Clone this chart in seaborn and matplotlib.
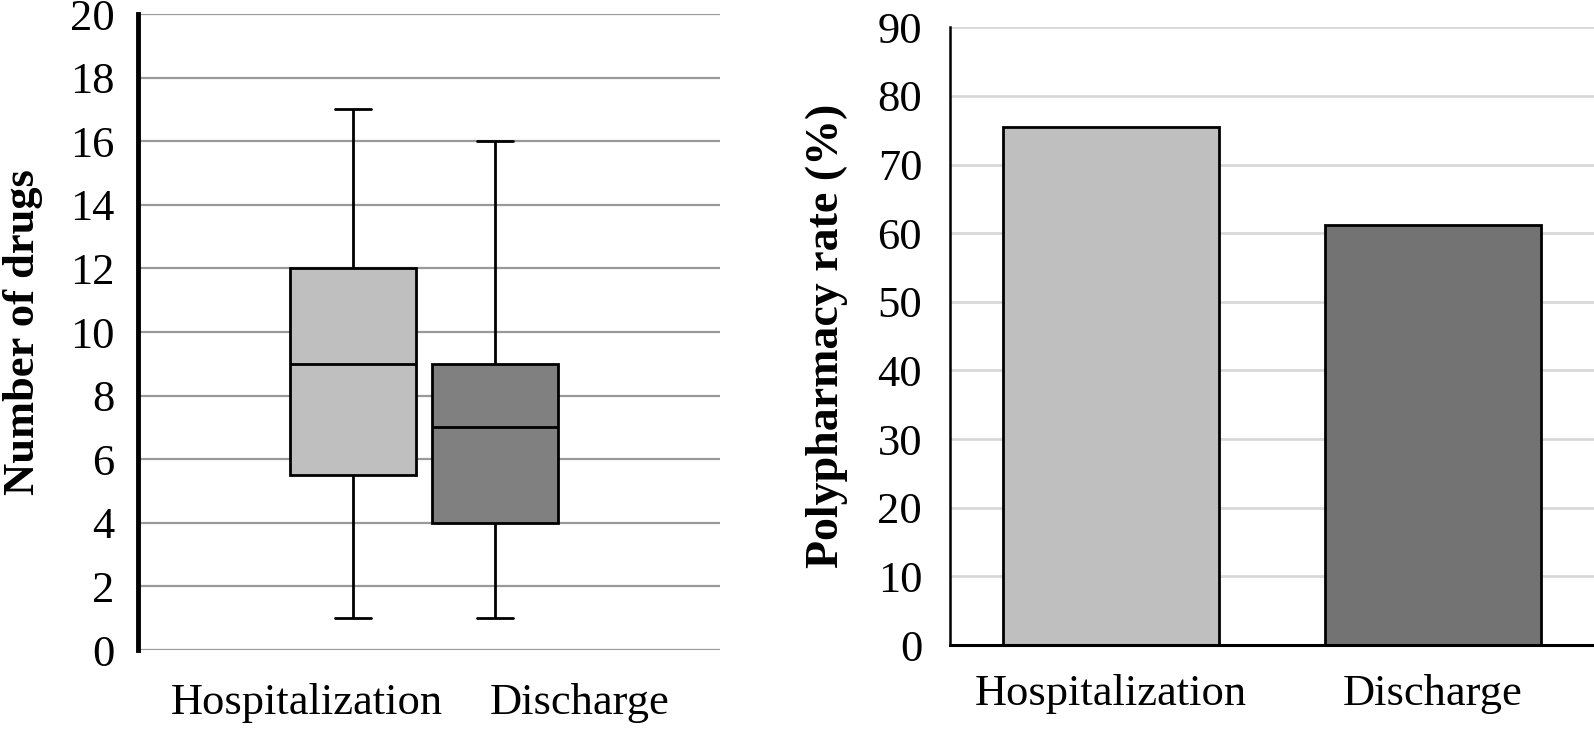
import numpy as np
import pandas as pd
import seaborn as sns
import matplotlib.pyplot as plt

# number of drugs: min, Q1, median, Q3, max per stage
stages = ["Hospitalization", "Discharge"]
hosp_drugs = [1, 5.5, 9, 12, 17]
disch_drugs = [1, 4, 7, 9, 16]

# polypharmacy rate (%)
poly_rate = [75.5, 61.2]

box_colors = ["#bfbfbf", "#808080"]
bar_colors = ["#bfbfbf", "#737373"]

sns.set_style("white")
plt.rcParams['font.family'] = ['Liberation Serif', 'DejaVu Serif']
plt.rcParams['text.color'] = 'black'
plt.rcParams['axes.labelcolor'] = 'black'
plt.rcParams['xtick.color'] = 'black'
plt.rcParams['ytick.color'] = 'black'

df = pd.DataFrame({
    "stage": [stages[0]] * len(hosp_drugs) + [stages[1]] * len(disch_drugs),
    "drugs": hosp_drugs + disch_drugs,
})

fig = plt.figure(figsize=(15.94, 7.37), dpi=100)
ax1 = fig.add_axes([0.0866, 0.118, 0.3651, 0.863])
ax2 = fig.add_axes([0.596, 0.1248, 0.404, 0.8382])

#%% left: box plot
sns.boxplot(data=df, x="stage", y="drugs", hue="stage", palette=box_colors,
            width=0.887, whis=(0, 100), linecolor="black", linewidth=2,
            legend=False, ax=ax1)
# narrower whisker caps, like the original
cap_half = 0.125
for cont in ax1.containers:
    for cap in getattr(cont, "caps", []):
        xd = np.asarray(cap.get_xdata(), dtype=float)
        mid = xd.mean()
        cap.set_xdata([mid - cap_half, mid + cap_half])

ax1.set_xlim(-1.514, 2.585)
ax1.set_ylim(0, 20)
ax1.set_yticks(np.arange(0, 21, 2))
ax1.yaxis.grid(True, color="#999999", linewidth=1.6)
ax1.set_axisbelow(True)
ax1.set_xticks([-0.324, 1.599])
ax1.set_xticklabels(stages)
ax1.tick_params(axis="x", length=0, pad=24, labelsize=32, labelcolor="black")
ax1.tick_params(axis="y", length=0, pad=17, labelsize=32, labelcolor="black")
ax1.set_xlabel("")
ax1.set_ylabel("Number of drugs", fontsize=32, fontweight="bold", labelpad=19,
               color="black")
for s in ["top", "right", "bottom"]:
    ax1.spines[s].set_visible(False)
ax1.spines["left"].set_linewidth(3.5)
ax1.spines["left"].set_color("black")

#%% right: bar chart
sns.barplot(x=stages, y=poly_rate, hue=stages, palette=bar_colors, width=0.67,
            edgecolor="black", linewidth=2, legend=False, ax=ax2)
ax2.set_xlim(-0.5, 1.5)
ax2.set_ylim(0, 90)
ax2.set_yticks(np.arange(0, 91, 10))
ax2.yaxis.grid(True, color="#d9d9d9", linewidth=2)
ax2.set_axisbelow(True)
ax2.tick_params(axis="x", length=0, pad=21, labelsize=32, labelcolor="black")
ax2.tick_params(axis="y", length=0, pad=20, labelsize=32, labelcolor="black")
ax2.set_ylabel("Polypharmacy rate (%)", fontsize=33, fontweight="bold", labelpad=21,
               color="black")
for s in ["top", "right"]:
    ax2.spines[s].set_visible(False)
ax2.spines["left"].set_linewidth(1.8)
ax2.spines["bottom"].set_linewidth(2.2)
ax2.spines["left"].set_color("black")
ax2.spines["bottom"].set_color("black")

plt.savefig("out.png", dpi=100)
